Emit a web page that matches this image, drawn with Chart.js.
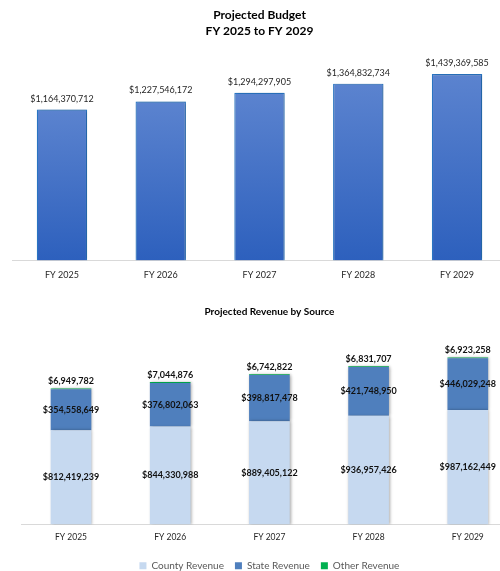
<!DOCTYPE html>
<html>
<head>
<meta charset="utf-8">
<script src="https://cdn.jsdelivr.net/npm/chart.js@4.4.1/dist/chart.umd.min.js"></script>
<style>
html,body{margin:0;padding:0;background:#fff;width:500px;height:571px;overflow:hidden;position:relative;}
#w1{position:absolute;left:0;top:0;width:508px;height:290px;}
#w2{position:absolute;left:0;top:290px;width:520px;height:291px;}
</style>
</head>
<body>
<div id="w1"><canvas id="c1"></canvas></div>
<div id="w2"><canvas id="c2"></canvas></div>
<script>
const years = ['FY 2025','FY 2026','FY 2027','FY 2028','FY 2029'];
const budget = [1164370712, 1227546172, 1294297905, 1364832734, 1439369585];
const countyRevenue = [812419239, 844330988, 889405122, 936957426, 987162449];
const stateRevenue = [354558649, 376802063, 398817478, 421748950, 446029248];
const otherRevenue = [6949782, 7044876, 6742822, 6831707, 6923258];

const FONT = "Lato, 'Open Sans', 'Liberation Sans', sans-serif";
const fmt = v => '$' + v.toLocaleString('en-US');

const shadowPlugin = {
  id: 'shadow',
  beforeDatasetsDraw(chart) {
    const c = chart.ctx; c.save();
    c.shadowColor = 'rgba(0,0,0,0.35)'; c.shadowBlur = 3; c.shadowOffsetX = 1; c.shadowOffsetY = 0;
  },
  afterDatasetsDraw(chart) { chart.ctx.restore(); }
};

const topLabels = {
  id: 'topLabels',
  afterDatasetsDraw(chart) {
    const c = chart.ctx; c.save();
    c.font = "9px " + FONT; c.fillStyle = '#262626'; c.textAlign = 'center'; c.textBaseline = 'middle';
    chart.getDatasetMeta(0).data.forEach((el, i) => {
      c.fillText(fmt(budget[i]), el.x, el.y - 11);
    });
    c.restore();
  }
};

const stackLabels = {
  id: 'stackLabels',
  afterDatasetsDraw(chart) {
    const c = chart.ctx; c.save();
    c.font = "bold 9px " + FONT; c.fillStyle = '#111'; c.textAlign = 'center'; c.textBaseline = 'middle';
    const sets = [countyRevenue, stateRevenue];
    [0,1].forEach(d => {
      chart.getDatasetMeta(d).data.forEach((el, i) => {
        c.fillText(fmt(sets[d][i]), el.x, (el.y + el.base) / 2);
      });
    });
    chart.getDatasetMeta(2).data.forEach((el, i) => {
      c.fillText(fmt(otherRevenue[i]), el.x, el.y - 7);
    });
    c.restore();
  }
};

new Chart(document.getElementById('c1'), {
  type: 'bar',
  data: {
    labels: years,
    datasets: [{
      data: budget,
      backgroundColor(ctx) {
        const chart = ctx.chart;
        if (!chart.chartArea || ctx.dataIndex === undefined) return '#4470C6';
        const ys = chart.scales.y;
        const top = ys.getPixelForValue(budget[ctx.dataIndex]);
        const bot = ys.getPixelForValue(0);
        const g = chart.ctx.createLinearGradient(0, top, 0, bot);
        g.addColorStop(0, '#5B83CF');
        g.addColorStop(1, '#2D60BD');
        return g;
      },
      borderColor: '#2A78C8',
      borderWidth: 1.2,
      borderSkipped: 'bottom',
      barPercentage: 0.51,
      categoryPercentage: 1
    }]
  },
  options: {
    responsive: true, maintainAspectRatio: false, animation: false,
    layout: { padding: { left: 12.6, right: 1.6, top: 0, bottom: 0.4 } },
    plugins: {
      legend: { display: false },
      tooltip: { enabled: false },
      title: {
        display: true,
        text: ['Projected Budget', 'FY 2025 to FY 2029'],
        color: '#000',
        font: { family: FONT, size: 12, weight: 'bold', lineHeight: 1.33 },
        padding: { top: 7, bottom: 10 }
      }
    },
    scales: {
      x: {
        grid: { display: false, drawTicks: false, tickLength: 0 },
        border: { display: true, color: '#D9D9D9', width: 1 },
        ticks: { color: '#262626', padding: 9.2, font: { family: FONT, size: 9 } }
      },
      y: { display: false, min: 0, max: 1633000000 }
    }
  },
  plugins: [shadowPlugin, topLabels]
});

new Chart(document.getElementById('c2'), {
  type: 'bar',
  data: {
    labels: years,
    datasets: [
      { label: 'County Revenue', data: countyRevenue, backgroundColor: '#C6D9F0', borderWidth: 0, barPercentage: 0.41, categoryPercentage: 1 },
      { label: 'State Revenue', data: stateRevenue, backgroundColor: '#4F7FBD', borderWidth: 0, barPercentage: 0.41, categoryPercentage: 1 },
      { label: 'Other Revenue', data: otherRevenue, backgroundColor: '#00B050', borderWidth: 0, barPercentage: 0.41, categoryPercentage: 1 }
    ]
  },
  options: {
    responsive: true, maintainAspectRatio: false, animation: false,
    layout: { padding: { left: 21.4, right: 2.6, top: 0, bottom: 0.3 } },
    plugins: {
      tooltip: { enabled: false },
      legend: {
        position: 'bottom',
        labels: {
          boxWidth: 7, boxHeight: 7, padding: 11, color: '#595959',
          font: { family: FONT, size: 10 }
        }
      },
      title: {
        display: true,
        text: 'Projected Revenue by Source',
        color: '#000',
        font: { family: FONT, size: 10, weight: 'bold', lineHeight: 1.2 },
        padding: { top: 15.7, bottom: 19.3 }
      }
    },
    scales: {
      x: {
        stacked: true,
        grid: { display: false, drawTicks: false, tickLength: 0 },
        border: { display: true, color: '#D9D9D9', width: 1 },
        ticks: { color: '#262626', padding: 7.5, font: { family: FONT, size: 8.5 } }
      },
      y: { stacked: true, display: false, min: 0, max: 1617000000 }
    }
  },
  plugins: [shadowPlugin, stackLabels]
});
</script>
</body>
</html>
